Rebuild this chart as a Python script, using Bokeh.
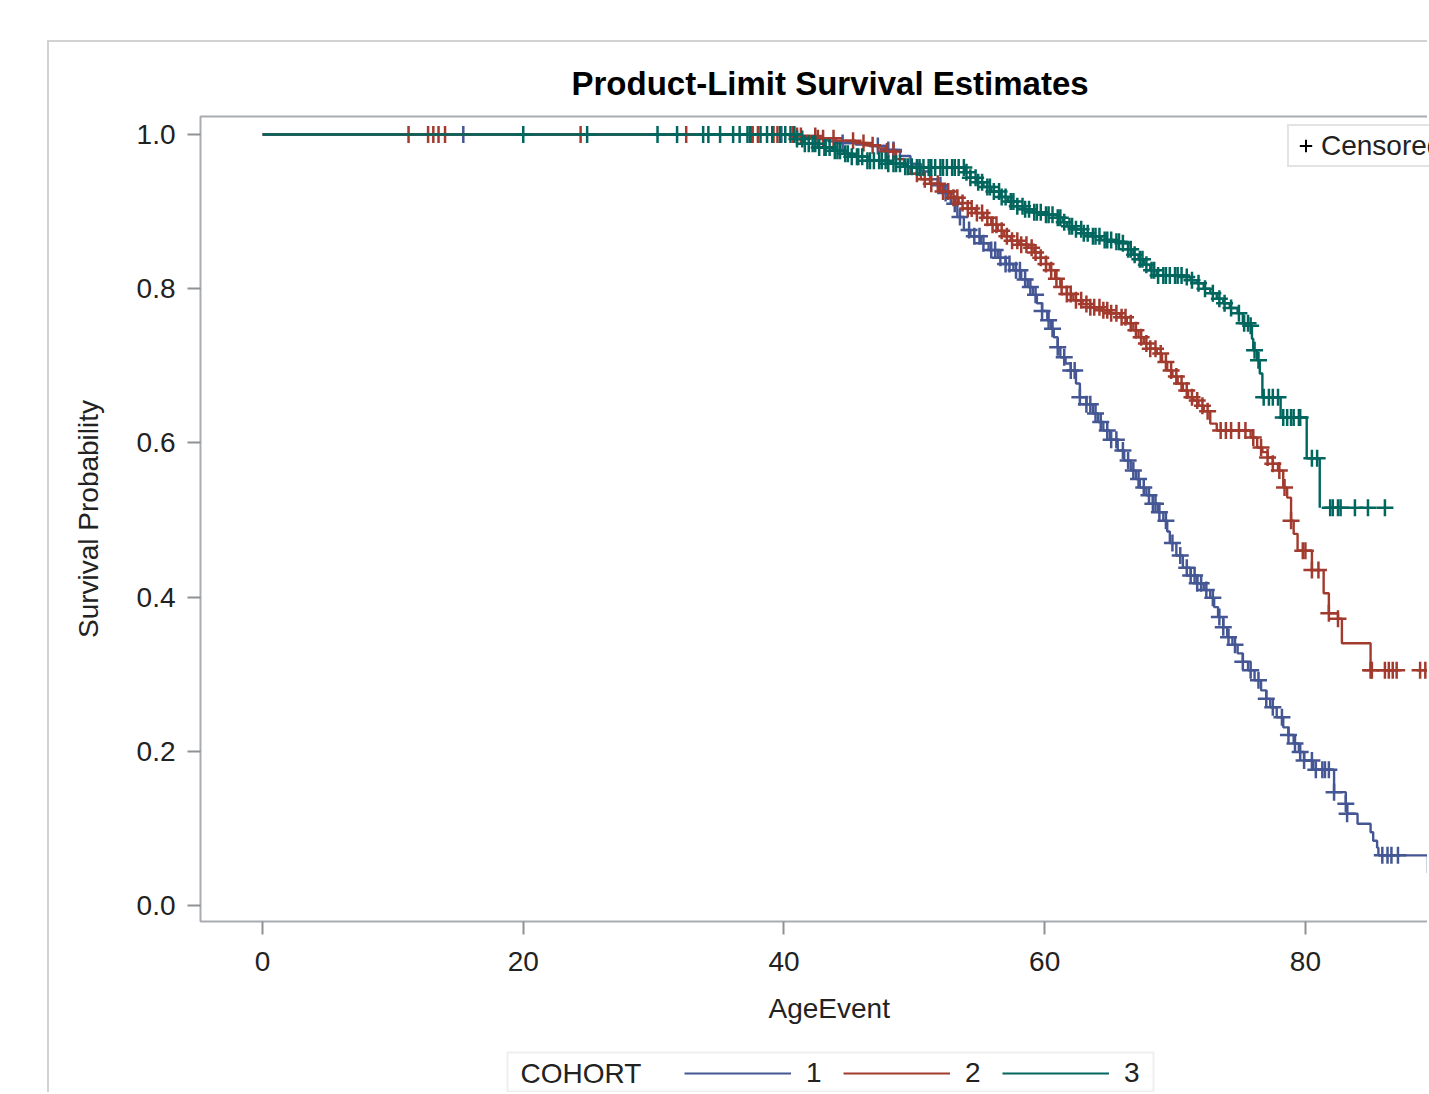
import numpy as np
from bokeh.plotting import figure
from bokeh.layouts import column
from bokeh.models import (Range1d, FixedTicker, Legend, LegendItem, Title, Label,
                          BoxAnnotation, NumeralTickFormatter)
from bokeh.embed import file_html
from bokeh.resources import INLINE

# ---------------- data ----------------
cohorts = ["1", "2", "3"]
colors = ["#445694", "#A23A2E", "#01665E"]

# Kaplan-Meier steps: time at which survival drops, survival after the drop
c1_time = [0, 41.3, 42.4, 43.4, 44.3, 45.5, 46.6, 47.8, 48.9, 49.7, 50.5, 51.2, 51.8,
           52.3, 52.8, 53.3, 53.8, 54.3, 55.1, 55.7, 56.4, 57.0, 57.6, 58.2, 58.7,
           59.1, 59.4, 59.8, 60.2, 60.5, 60.7, 61.0, 61.2, 61.6, 62.0, 62.4, 62.7,
           63.2, 63.7, 64.1, 64.5, 65.0, 65.6, 66.1, 66.6, 67.0, 67.3, 67.8, 68.3,
           68.7, 69.1, 69.4, 69.6, 70.1, 70.6, 71.2, 71.7, 72.2, 72.7, 73.0, 73.3,
           73.7, 74.0, 74.4, 74.8, 75.2, 75.6, 76.1, 76.6, 77.0, 77.3, 77.8, 78.3,
           78.7, 79.1, 79.5, 79.9, 80.6, 82.2, 83.1, 83.2, 84.0, 85.0, 85.2, 85.5,
           85.6, 89.4]
c1_surv = [1.0, 0.997, 0.994, 0.991, 0.989, 0.987, 0.985, 0.980, 0.972, 0.962, 0.952,
           0.942, 0.934, 0.924, 0.910, 0.893, 0.876, 0.868, 0.859, 0.850, 0.840,
           0.832, 0.824, 0.812, 0.802, 0.792, 0.781, 0.771, 0.759, 0.748, 0.737,
           0.724, 0.711, 0.703, 0.694, 0.677, 0.659, 0.650, 0.638, 0.627, 0.616,
           0.604, 0.590, 0.577, 0.564, 0.553, 0.542, 0.532, 0.521, 0.510, 0.499,
           0.485, 0.470, 0.454, 0.438, 0.428, 0.418, 0.409, 0.399, 0.387, 0.374,
           0.361, 0.348, 0.338, 0.327, 0.316, 0.305, 0.292, 0.279, 0.268, 0.257,
           0.244, 0.231, 0.221, 0.210, 0.199, 0.188, 0.176, 0.147, 0.132, 0.119,
           0.106, 0.095, 0.084, 0.075, 0.065, 0.042]

c2_time = [0, 41.0, 42.5, 44.0, 45.5, 46.4, 47.2, 47.9, 48.6, 49.2, 49.7, 50.5, 51.2,
           52.0, 52.8, 53.4, 54.1, 54.7, 55.3, 55.9, 56.4, 56.9, 57.4, 58.0, 58.7,
           59.2, 59.7, 60.1, 60.4, 60.8, 61.2, 61.7, 62.2, 62.9, 63.5, 64.3, 65.0,
           65.8, 66.3, 66.8, 67.2, 67.6, 68.1, 68.6, 69.0, 69.4, 69.8, 70.2, 70.6,
           71.0, 71.4, 71.8, 72.2, 72.7, 73.2, 75.8, 76.3, 76.7, 77.1, 77.5, 77.9,
           78.3, 78.6, 78.9, 79.1, 79.4, 80.5, 81.4, 81.8, 82.5, 82.8, 85.0]
c2_surv = [1.0, 0.998, 0.995, 0.992, 0.989, 0.986, 0.982, 0.978, 0.968, 0.958, 0.949,
           0.942, 0.936, 0.926, 0.918, 0.911, 0.904, 0.898, 0.892, 0.883, 0.875,
           0.868, 0.862, 0.857, 0.853, 0.847, 0.840, 0.832, 0.824, 0.813, 0.802,
           0.793, 0.785, 0.780, 0.776, 0.772, 0.768, 0.763, 0.755, 0.746, 0.737,
           0.729, 0.722, 0.716, 0.705, 0.694, 0.686, 0.677, 0.668, 0.659, 0.655,
           0.648, 0.641, 0.625, 0.616, 0.607, 0.594, 0.588, 0.581, 0.573, 0.564,
           0.542, 0.529, 0.499, 0.482, 0.460, 0.435, 0.405, 0.379, 0.372, 0.340,
           0.305]

c3_time = [0, 40.9, 41.5, 42.6, 43.8, 44.6, 45.1, 46.4, 47.9, 49.2, 49.9, 53.9, 54.3,
           54.8, 55.3, 55.9, 56.6, 57.2, 57.9, 58.5, 59.1, 60.0, 61.0, 61.4, 61.7,
           62.3, 63.0, 63.6, 64.3, 65.2, 66.0, 66.4, 66.8, 67.2, 67.6, 68.1, 68.6,
           70.6, 71.2, 71.7, 72.2, 72.7, 73.2, 73.7, 74.2, 74.8, 75.2, 75.8, 75.9,
           76.0, 76.3, 76.5, 76.7, 78.1, 80.1, 81.1]
c3_surv = [1.0, 0.994, 0.988, 0.983, 0.979, 0.975, 0.971, 0.966, 0.962, 0.958, 0.957,
           0.951, 0.944, 0.938, 0.932, 0.926, 0.919, 0.913, 0.907, 0.903, 0.899,
           0.896, 0.892, 0.886, 0.881, 0.877, 0.872, 0.868, 0.863, 0.861, 0.859,
           0.851, 0.844, 0.838, 0.831, 0.824, 0.817, 0.815, 0.811, 0.807, 0.800,
           0.794, 0.787, 0.781, 0.775, 0.768, 0.755, 0.752, 0.735, 0.720, 0.707,
           0.690, 0.659, 0.633, 0.580, 0.516]

# censored observation times
c1_cens = [15.4, 37.5, 39.8, 44.5, 47.2, 48.0, 48.4, 52.0, 52.4, 53.1, 53.5, 54.2,
           54.6, 55.0, 55.3, 55.9, 56.2, 56.6, 57.0, 57.3, 57.8, 58.1, 58.5, 58.9,
           59.3, 59.8, 60.3, 60.6, 61.0, 61.5, 62.0, 62.3, 62.7, 63.2, 63.5, 63.9,
           64.3, 64.8, 65.1, 65.5, 66.0, 66.4, 66.8, 67.2, 67.6, 68.0, 68.3, 68.5,
           68.8, 69.3, 69.8, 70.4, 70.9, 71.2, 71.5, 71.7, 72.0, 72.4, 72.9, 73.4,
           73.7, 74.1, 74.6, 75.2, 75.8, 76.4, 77.0, 77.5, 78.2, 78.7, 79.2, 79.6,
           79.9, 80.5, 80.8, 81.3, 81.5, 81.8, 82.2, 83.1, 83.2, 85.9, 86.3, 86.6,
           87.1]
c2_cens = [11.2, 12.7, 13.1, 13.5, 14.0, 24.4, 32.5, 37.4, 37.6, 38.0, 39.2, 39.5,
           40.7, 41.0, 41.3, 42.4, 42.6, 43.0, 43.8, 45.3, 46.1, 46.8, 47.9, 48.4,
           50.2, 50.8, 51.3, 51.8, 52.2, 52.6, 53.0, 53.3, 53.7, 54.1, 54.4, 54.8,
           55.2, 55.6, 56.0, 56.3, 56.7, 57.1, 57.5, 57.9, 58.2, 58.6, 59.0, 59.3,
           59.7, 60.1, 60.5, 60.9, 61.3, 61.7, 62.0, 62.4, 62.8, 63.2, 63.5, 63.8,
           64.2, 64.5, 64.8, 65.1, 65.5, 65.9, 66.2, 66.6, 67.0, 67.4, 67.8, 68.1,
           68.5, 68.9, 69.3, 69.7, 70.1, 70.5, 70.9, 71.3, 71.7, 72.1, 72.5, 73.5,
           73.9, 74.3, 74.9, 75.4, 76.0, 76.6, 77.1, 77.5, 78.0, 78.4, 78.9, 79.8,
           80.0, 80.5, 81.0, 81.8, 82.5, 85.0, 85.1, 86.1, 86.4, 86.7, 87.0, 88.8,
           89.2]
c3_cens = [20.0, 24.9, 30.3, 31.8, 33.8, 34.2, 35.1, 36.1, 36.6, 37.2, 37.4, 38.2,
           38.7, 39.1, 39.7, 40.1, 40.5, 40.8, 41.0, 41.4, 41.6, 41.9, 42.2, 42.4,
           42.7, 43.1, 43.2, 43.5, 43.9, 44.1, 44.3, 44.7, 44.9, 45.2, 45.6, 45.7,
           46.0, 46.4, 46.6, 46.9, 47.3, 47.5, 47.8, 48.0, 48.4, 48.6, 48.9, 49.3,
           49.5, 49.8, 50.2, 50.4, 50.7, 51.1, 51.3, 51.6, 52.0, 52.2, 52.5, 52.9,
           53.1, 53.4, 53.8, 54.0, 54.3, 54.7, 54.9, 55.2, 55.6, 55.8, 56.1, 56.5,
           56.7, 57.0, 57.4, 57.6, 57.9, 58.3, 58.5, 58.8, 59.2, 59.4, 59.7, 60.1,
           60.3, 60.6, 61.0, 61.2, 61.5, 61.9, 62.1, 62.4, 62.8, 63.0, 63.3, 63.7,
           63.9, 64.2, 64.6, 64.8, 65.1, 65.5, 65.7, 66.0, 66.4, 66.6, 66.9, 67.3,
           67.5, 67.8, 68.2, 68.4, 68.7, 69.1, 69.3, 69.6, 70.0, 70.2, 70.5, 70.9,
           71.3, 71.8, 72.3, 72.9, 73.4, 73.8, 74.3, 74.9, 75.3, 75.6, 75.8, 76.1,
           76.4, 76.8, 77.2, 77.5, 77.9, 78.3, 78.6, 78.9, 79.1, 79.5, 79.6, 80.5,
           80.9, 81.9, 82.1, 82.5, 82.7, 83.8, 84.8, 86.1]

x_ticks = [0, 20, 40, 60, 80]
y_ticks = [0.0, 0.2, 0.4, 0.6, 0.8, 1.0]

FONT = "Liberation Sans"
TXT = "#222222"
FRAME_GREY = "#d2d2d2"

# ---------------- main figure ----------------
p = figure(width=1380, height=1008, output_backend="svg", toolbar_location=None,
           x_range=Range1d(-4.76, 89.52), y_range=Range1d(-0.0208, 1.0233),
           min_border_left=151, min_border_right=0, min_border_top=74,
           min_border_bottom=129, background_fill_color="white",
           border_fill_color="white")
p.margin = (40, 0, 0, 47)
p.styles = {"border-left": f"2px solid {FRAME_GREY}", "border-top": f"2px solid {FRAME_GREY}"}

p.grid.visible = False
p.outline_line_color = "#a9acb1"
p.outline_line_width = 2

p.title.text = "Product-Limit Survival Estimates"
p.title.align = "left"
p.title.offset = 371
p.title.text_font = FONT
p.title.text_font_size = "33px"
p.title.text_font_style = "bold"
p.title.text_color = "#000000"
p.title.standoff = 29

for ax in (p.xaxis[0], p.yaxis[0]):
    ax.axis_line_color = None
    ax.major_tick_line_color = "#8e9196"
    ax.major_tick_line_width = 2
    ax.major_tick_out = 13
    ax.major_tick_in = 0
    ax.minor_tick_line_color = None
    ax.major_label_text_font = FONT
    ax.major_label_text_font_size = "28px"
    ax.major_label_text_color = TXT
    ax.axis_label_text_font = FONT
    ax.axis_label_text_font_size = "28px"
    ax.axis_label_text_font_style = "normal"
    ax.axis_label_text_color = TXT

p.xaxis.ticker = FixedTicker(ticks=x_ticks)
p.yaxis.ticker = FixedTicker(ticks=y_ticks)
p.yaxis.formatter = NumeralTickFormatter(format="0.0")
p.xaxis.major_label_standoff = 17
p.yaxis.major_label_standoff = 12
p.yaxis.axis_label = "Survival Probability"
p.yaxis.axis_label_standoff = 30

xlabel = Title(text="AgeEvent", align="left", offset=568, text_font=FONT,
               text_font_size="28px", text_font_style="normal", text_color=TXT,
               standoff=34)
p.add_layout(xlabel, "below")

def surv_at(times, surv, t):
    idx = np.searchsorted(np.array(times), np.array(t), side="right") - 1
    return [surv[i] for i in idx]

series = [(c1_time, c1_surv, c1_cens), (c2_time, c2_surv, c2_cens),
          (c3_time, c3_surv, c3_cens)]
for (t, s, c), col in zip(series, colors):
    p.step(x=t, y=s, mode="after", line_color=col, line_width=2.4)
    p.scatter(x=c, y=surv_at(t, s, c), marker="cross", size=17,
              line_color=col, line_width=2.5)

# legend: Censored (inside, top right)
proxy = p.scatter(x=[np.nan], y=[np.nan], marker="cross", size=13,
                  line_color="black", line_width=2)
leg_c = Legend(items=[LegendItem(label="Censored", renderers=[proxy])],
               location=(1087, 754), orientation="horizontal",
               label_text_font=FONT, label_text_font_size="28px",
               label_text_color=TXT, glyph_width=31, glyph_height=37,
               label_standoff=0, padding=1, margin=0,
               border_line_color="#c8c8c8", border_line_width=2,
               background_fill_alpha=1)
p.add_layout(leg_c)

# ---------------- legend strip (COHORT) ----------------
# the strip's frame is aligned with the main frame (page x 200..1429);
# its ranges are page pixels so the legend box can be placed
q = figure(width=1380, height=44, output_backend="svg", toolbar_location=None,
           x_range=Range1d(200, 1429), y_range=Range1d(1094, 1050),
           x_axis_location=None, y_axis_location=None,
           min_border_left=0, min_border_right=0, min_border_top=0,
           min_border_bottom=0, background_fill_color="white",
           border_fill_color="white")
q.margin = (0, 0, 0, 47)
q.styles = {"border-left": f"2px solid {FRAME_GREY}"}
q.grid.visible = False
q.outline_line_color = None

proxies = [q.line(x=[np.nan], y=[np.nan], line_color=col, line_width=2) for col in colors]
q.add_layout(BoxAnnotation(left=507, right=1153, top=1054, bottom=1093,
                           fill_color="white", fill_alpha=1,
                           line_color="#c8c8c8", line_width=2))
q.add_layout(Label(x=520, y=1075, text="COHORT", text_font=FONT,
                   text_font_size="28px", text_color=TXT, text_baseline="middle"))
leg = Legend(items=[LegendItem(label=n, renderers=[r]) for n, r in zip(cohorts, proxies)],
             orientation="horizontal", location=(484, 3),
             label_text_font=FONT, label_text_font_size="28px", label_text_color=TXT,
             glyph_width=107, label_standoff=15, spacing=17, padding=0, margin=0,
             border_line_color=None, background_fill_alpha=0)
q.add_layout(leg)

layout = column(p, q, spacing=0)
open("out.html", "w").write(file_html(layout, INLINE))
